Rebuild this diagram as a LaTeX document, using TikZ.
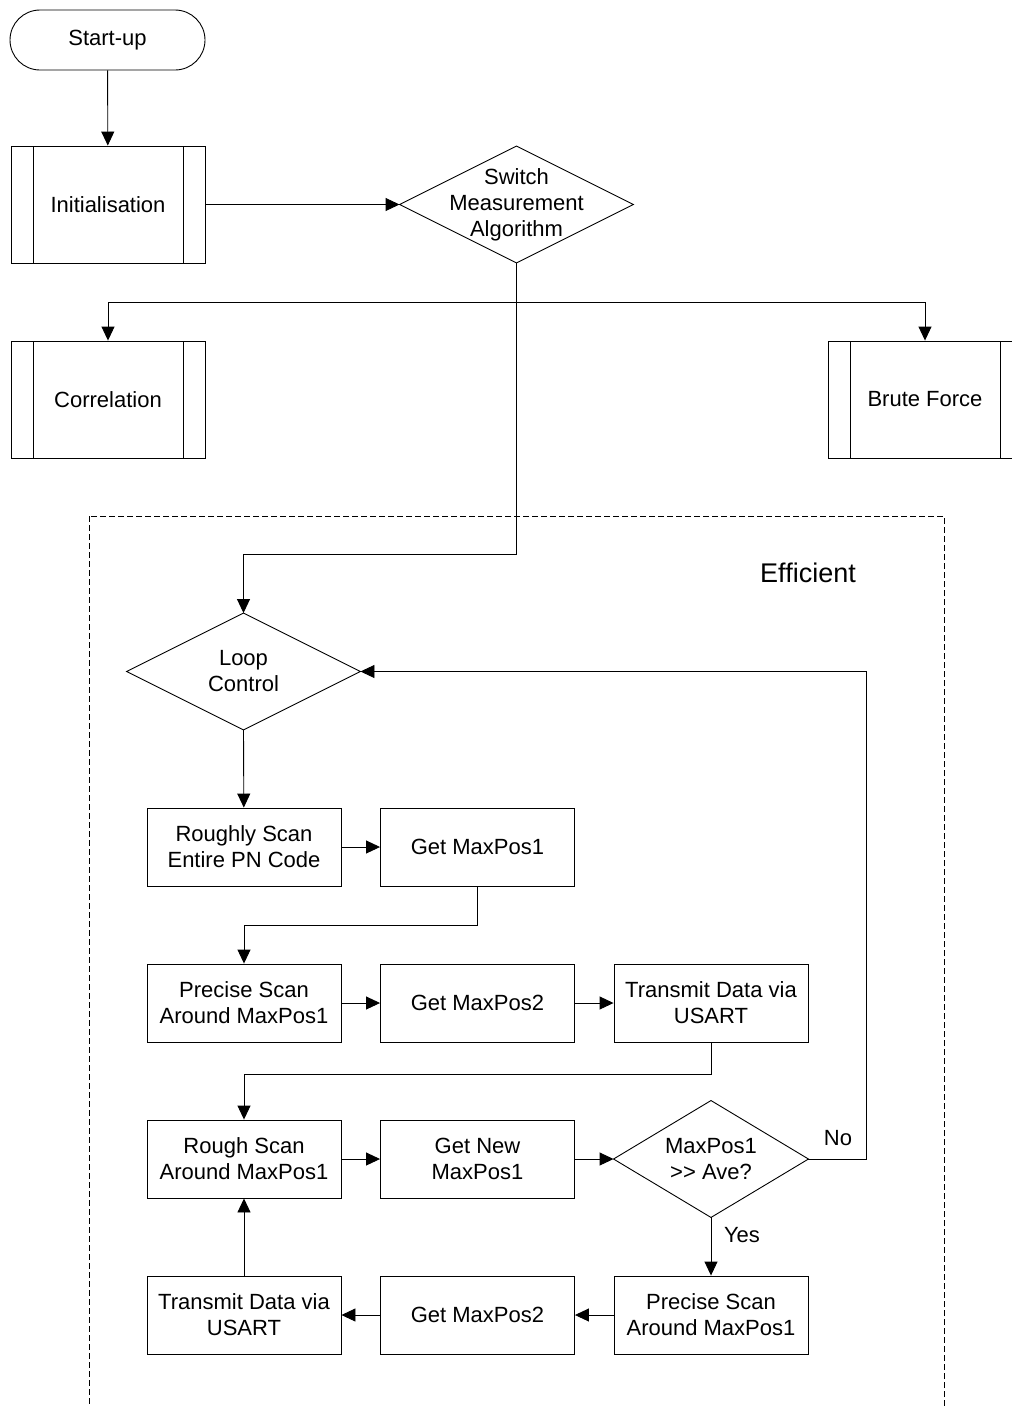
\documentclass[tikz,border=0pt]{standalone}
\usepackage{fontspec}
\setmainfont{Liberation Sans}
\usetikzlibrary{arrows.meta, positioning, calc}

\begin{document}
\begin{tikzpicture}[x=1pt, y=-1pt, line width=0.9pt,
  every node/.style={font=\fontsize{22}{26}\selectfont, align=center},
  arr/.style={-{Triangle[length=14pt,width=13pt]}},
  terminal/.style={draw, rounded corners=30pt, minimum width=195pt, minimum height=60pt},
  procbox/.style={draw, minimum width=194pt, minimum height=78pt},
  predef/.style={draw, minimum width=194pt, minimum height=117pt,
    path picture={
      \draw ([xshift=22pt]path picture bounding box.north west) -- ([xshift=22pt]path picture bounding box.south west);
      \draw ([xshift=-22pt]path picture bounding box.north east) -- ([xshift=-22pt]path picture bounding box.south east);
    }},
  decision/.style={minimum width=#1, minimum height=116pt,
    append after command={\pgfextra{
      \draw (\tikzlastnode.north) -- (\tikzlastnode.east) -- (\tikzlastnode.south) -- (\tikzlastnode.west) -- cycle;
    }}},
  decision/.default=233pt]
  \useasboundingbox (0,0) rectangle (1012,1406);

  % Start-up and the algorithm switch
  \node[terminal] (start) at (107.5,40) {Start-up};
  \node[predef] (init) at (108,204.5) {Initialisation};
  \node[decision] (switch) at (516.5,204.5) {Switch\\Measurement\\Algorithm};
  \node[predef] (corr) at (108,399.5) {Correlation};
  \node[predef] (brute) at (925,399.5) {Brute Force};

  \draw[arr] (start) -- (init);
  \draw[arr] (init) -- (switch);
  \coordinate (split) at (516.5,302);
  \coordinate (drop) at (516.5,554);
  \draw (switch.south) -- (split);
  \draw[arr] (split) -| (corr.north);
  \draw[arr] (split) -| (brute.north);

  % Efficient algorithm
  \draw[line width=0.8pt, dash pattern=on 6pt off 3pt] (89,516) rectangle (944,1420);
  \node[font=\fontsize{27}{32}\selectfont] (lbleff) at (808,573) {Efficient};

  \node[decision] (loop) at (243.5,671.5) {Loop\\Control};
  \draw[arr] (split) -- (drop) -| (loop.north);

  \node[procbox] (rough1) at (244,847) {Roughly Scan\\Entire PN Code};
  \node[procbox] (getmax1) at (477.5,847) {Get MaxPos1};
  \node[procbox] (precise1) at (244,1003) {Precise Scan\\Around MaxPos1};
  \node[procbox] (getmax2) at (477.5,1003) {Get MaxPos2};
  \node[procbox] (transmit1) at (711,1003) {Transmit Data via\\USART};
  \node[procbox] (rough2) at (244,1159) {Rough Scan\\Around MaxPos1};
  \node[procbox] (getnew) at (477.5,1159) {Get New\\MaxPos1};
  \node[decision=194pt] (ave) at (711,1159) {MaxPos1\\>\kern0pt> Ave?};
  \node[procbox] (precise2) at (711,1315) {Precise Scan\\Around MaxPos1};
  \node[procbox] (getmaxb) at (477.5,1315) {Get MaxPos2};
  \node[procbox] (transmit2) at (244,1315) {Transmit Data via\\USART};

  \draw[arr] (loop.south) -- (rough1);
  \draw[arr] (rough1) -- (getmax1);
  \draw[arr] (getmax1.south) -- ++(0,39) -| (precise1.north);
  \draw[arr] (precise1) -- (getmax2);
  \draw[arr] (getmax2) -- (transmit1);
  \draw[arr] (transmit1.south) -- ++(0,32) -| (rough2.north);
  \draw[arr] (rough2) -- (getnew);
  \draw[arr] (getnew) -- (ave.west);

  % loop back / continue
  \draw[arr] (ave.east) -- ++(58,0) |- (loop.east);
  \node (lblno) at (838,1138) {No};
  \draw[arr] (ave.south) -- (precise2.north);
  \node (lblyes) at (742,1235) {Yes};
  \draw[arr] (precise2) -- (getmaxb);
  \draw[arr] (getmaxb) -- (transmit2);
  \draw[arr] (transmit2) -- (rough2);
\end{tikzpicture}
\end{document}
